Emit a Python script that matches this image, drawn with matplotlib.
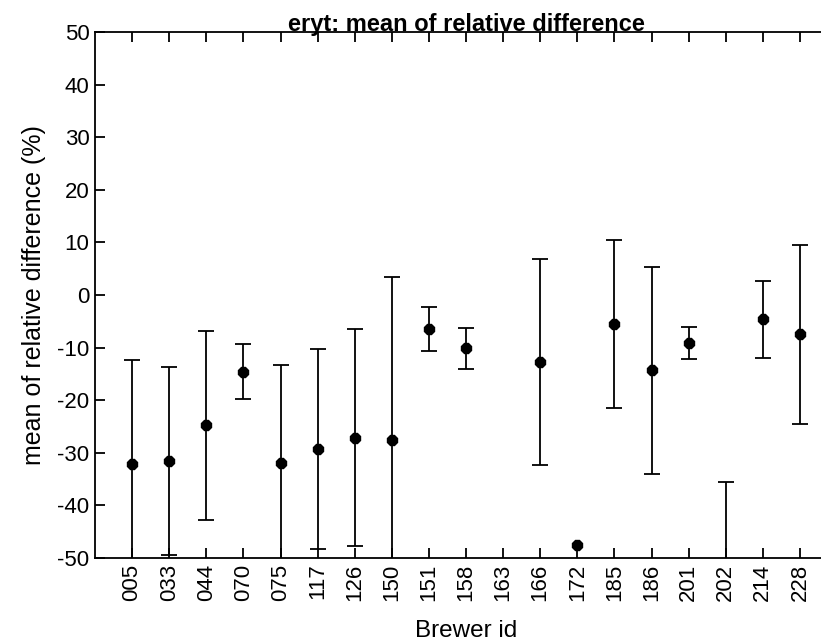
import numpy as np
import matplotlib
matplotlib.use("Agg")
import matplotlib.pyplot as plt

# ============================================
# data
# ============================================
brewer_ids = ["005", "033", "044", "070", "075", "117", "126", "150", "151", "158",
              "163", "166", "172", "185", "186", "201", "202", "214", "228"]
mean_diff = [-32.2, -31.6, -24.8, -14.6, -31.9, -29.3, -27.1, -27.6, -6.5, -10.1,
             np.nan, -12.7, -47.5, -5.5, -14.3, -9.1, -60.0, -4.6, -7.5]
std_diff = [19.8, 17.9, 18.0, 5.2, 18.5, 19.0, 20.6, 31.1, 4.2, 3.9,
            np.nan, 19.6, np.nan, 15.9, 19.7, 3.0, 24.5, 7.3, 17.1]

fam = ["Liberation Sans", "DejaVu Sans"]

fig = plt.figure(figsize=(8.21, 6.44), dpi=100)
# axes box runs past the right edge like in the reference
ax = fig.add_axes([95 / 821, 1 - 558 / 644, 742 / 821, 526 / 644])

x = np.arange(1, len(brewer_ids) + 1)
ax.errorbar(x, mean_diff, yerr=std_diff, fmt="none", ecolor="black",
            elinewidth=1.3, capsize=5.5, capthick=1.3)
ax.plot(x, mean_diff, linestyle="none", marker="8", ms=8, color="black")

ax.set_xlim(0, 20)
ax.set_ylim(-50, 50)
ax.set_xticks(x)
ax.set_xticklabels(brewer_ids, rotation=90, family=fam, fontsize=16)
ax.set_yticks(np.arange(-50, 51, 10))
ax.set_yticklabels([str(v) for v in range(-50, 51, 10)], family=fam, fontsize=16)
ax.tick_params(direction="in", length=7, width=1.3, top=True, right=True, pad=4)
for s in ax.spines.values():
    s.set_linewidth(1.3)

ax.set_title("eryt: mean of relative difference", fontweight="bold",
             family=fam, fontsize=17, pad=1)
ax.set_ylabel("mean of relative difference (%)", family=fam, fontsize=18, labelpad=8)
ax.set_xlabel("Brewer id", family=fam, fontsize=17.5, labelpad=14)

fig.savefig("out.png", dpi=100)
